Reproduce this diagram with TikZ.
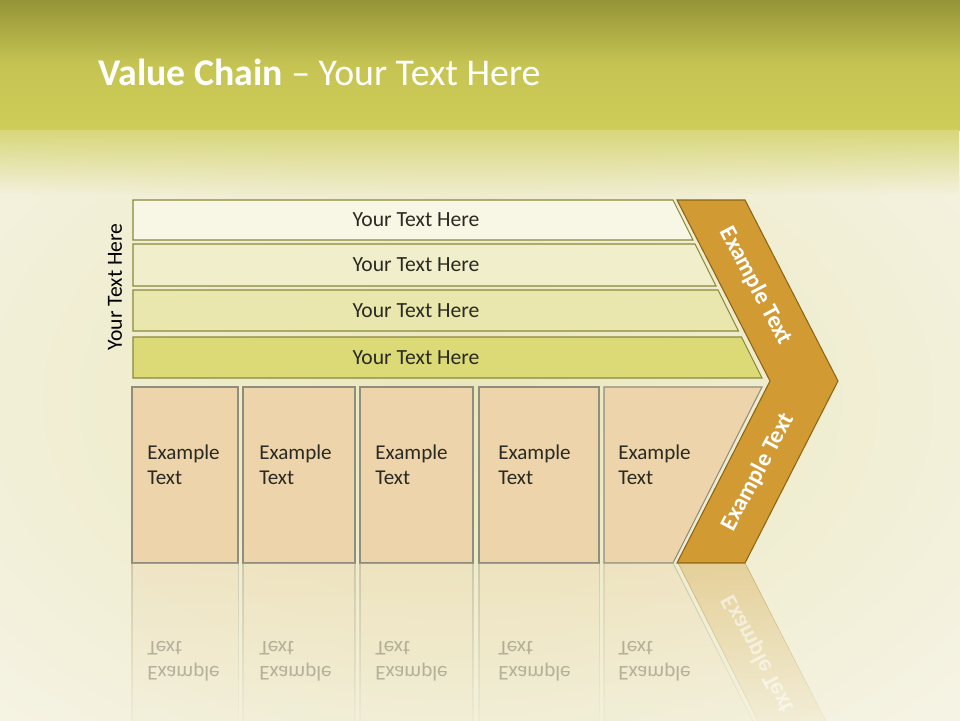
\documentclass[tikz,border=0pt]{standalone}
\usepackage{fontspec}
\setmainfont{Carlito}
\usetikzlibrary{fadings}
\definecolor{ink}{HTML}{2A2A22}
\definecolor{headtop}{HTML}{959437}
\definecolor{headbot}{HTML}{CECD58}
\definecolor{page}{HTML}{F7F5EA}
\definecolor{pagemid}{HTML}{EAE7BC}
\definecolor{barline}{HTML}{8A883A}
\definecolor{rowA}{HTML}{F8F7E5}
\definecolor{rowB}{HTML}{F1EFCB}
\definecolor{rowC}{HTML}{E9E7AE}
\definecolor{rowD}{HTML}{DCDA76}
\definecolor{tan}{HTML}{EDD4AA}
\definecolor{tileline}{HTML}{8F8D7E}
\definecolor{chev}{HTML}{D19A33}
\definecolor{chevline}{HTML}{8C6414}

\begin{document}
\begin{tikzpicture}[
  x=0.02cm, y=-0.02cm,
  text=ink,
  bar/.style={draw=barline, line width=.6pt},
  barlabel/.style={font=\fontsize{12.3}{14}\selectfont},
  tile/.style={draw=tileline, line width=.6pt, fill=tan},
  tilelabel/.style={anchor=west, align=left, inner sep=0pt, font=\fontsize{12}{14.4}\selectfont},
  chevlabel/.style={text=white, font=\fontsize{13.5}{15}\selectfont\bfseries},
  mirror/.style={fill opacity=.35, draw opacity=.35, path fading=south},
  mirrorlabel/.style={transform shape, opacity=.3}
]
  \useasboundingbox (0,0) rectangle (960,720);
  % background
  \fill[page] (0,0) rectangle (960,720);
  \shade[inner color=pagemid, outer color=page] (-320,-120) rectangle (1240,920);
  \shade[top color=headtop, bottom color=headbot, middle color=headbot!85!headtop]
    (0,0) rectangle (960,130);
  \fill[headbot!80!white, path fading=south] (0,130) rectangle (960,195);
  \node[anchor=base west, inner sep=0pt, text=white, font=\fontsize{21.5}{24}\selectfont] (title) at (98,85)
    {\textbf{Value Chain} -- Your Text Here};

  % side label
  \node[barlabel, text=black, rotate=90] (side) at (115,287) {Your Text Here};

  % four slanted bars
  \foreach \i/\top/\bot/\col in {1/200/240/rowA, 2/244/286/rowB, 3/290/331/rowC, 4/337/378/rowD} {
    \draw[bar, fill=\col] (133,\top) -- ({673+0.5*(\top-200)},\top)
      -- ({673+0.5*(\bot-200)},\bot) -- (133,\bot) -- cycle;
    \node[barlabel] (row\i) at (416,{(\top+\bot)/2}) {Your Text Here};
  }

  % chevron
  \draw[fill=chev, draw=chevline, line width=.6pt] (677,200) -- (745,200) -- (838,381)
    -- (745,563) -- (677,563) -- (770,381) -- cycle;
  \node[chevlabel, rotate=-62] (chevtop) at (756,286) {Example Text};
  \node[chevlabel, rotate=62] (chevbot) at (758,472) {Example Text};

  % activity boxes
  \foreach \i/\l/\r/\tx in {1/132/238/147, 2/243/355/259, 3/360/473/375, 4/479/599/498} {
    \draw[tile] (\l,387) rectangle (\r,563);
    \node[tilelabel] (box\i) at (\tx,465) {Example\\Text};
  }
  \draw[tile] (604,387) -- (762,387) -- (673,563) -- (604,563) -- cycle;
  \node[tilelabel] (box5) at (618,465) {Example\\Text};

  % reflection
  \foreach \l/\r in {132/238, 243/355, 360/473, 479/599}
    \draw[tile, mirror] (\l,563) rectangle (\r,739);
  \draw[tile, mirror] (604,563) -- (673,563) -- (762,739) -- (604,739) -- cycle;
  \draw[mirror, fill=chev, draw=chevline] (678,563) -- (745,563) -- (838,745) -- (770,745) -- cycle;
  \begin{scope}[shift={(0,1126)}, yscale=-1]
    \foreach \i/\tx in {1/147, 2/259, 3/375, 4/498, 5/618}
      \node[tilelabel, mirrorlabel] (refl\i) at (\tx,465) {Example\\Text};
    \node[chevlabel, mirrorlabel, opacity=.55, rotate=62] (reflchev) at (758,472) {Example Text};
  \end{scope}
\end{tikzpicture}
\end{document}
